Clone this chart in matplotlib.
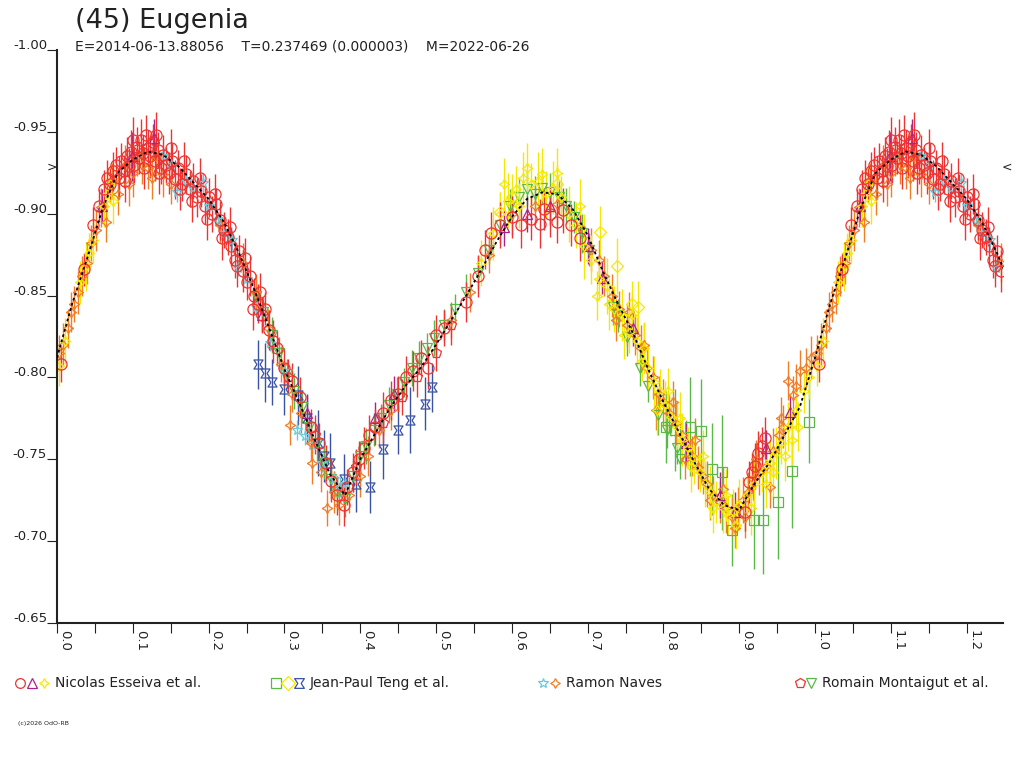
import numpy as np
import matplotlib
matplotlib.use('Agg')
import matplotlib.pyplot as plt
import matplotlib.transforms as mtransforms
from matplotlib.path import Path

plt.rcParams['font.family'] = ['DejaVu Sans']

# -- phase, reduced magnitude, error --
esseiva_circles = [
    (0.005,-0.808,0.011),(0.035,-0.866,0.010),(0.048,-0.893,0.011),(0.056,-0.905,0.010),(0.062,-0.915,0.012),
    (0.066,-0.922,0.011),(0.070,-0.918,0.010),(0.074,-0.926,0.012),(0.078,-0.930,0.011),(0.082,-0.922,0.013),
    (0.085,-0.932,0.011),(0.088,-0.926,0.010),(0.092,-0.935,0.012),(0.095,-0.929,0.011),(0.098,-0.938,0.013),
    (0.102,-0.930,0.011),(0.105,-0.941,0.012),(0.108,-0.934,0.010),(0.111,-0.945,0.013),(0.114,-0.937,0.011),
    (0.117,-0.948,0.012),(0.120,-0.940,0.011),(0.123,-0.935,0.013),(0.126,-0.944,0.011),(0.129,-0.932,0.012),
    (0.133,-0.939,0.011),(0.137,-0.928,0.010),(0.140,-0.936,0.012),(0.144,-0.930,0.011),(0.148,-0.925,0.013),
    (0.152,-0.932,0.011),(0.156,-0.921,0.012),(0.160,-0.928,0.011),(0.165,-0.918,0.010),(0.170,-0.924,0.012),
    (0.175,-0.915,0.011),(0.180,-0.920,0.011),(0.185,-0.910,0.012),(0.190,-0.914,0.010),(0.195,-0.905,0.011),
    (0.200,-0.910,0.012),(0.205,-0.900,0.011),(0.210,-0.906,0.010),(0.215,-0.896,0.012),(0.220,-0.890,0.011),
    (0.225,-0.886,0.011),(0.230,-0.880,0.012),(0.235,-0.872,0.011),(0.240,-0.877,0.010),(0.245,-0.865,0.013),
    (0.250,-0.858,0.011),(0.255,-0.862,0.012),(0.260,-0.850,0.011),(0.265,-0.845,0.012),(0.270,-0.838,0.011),
    (0.275,-0.842,0.010),(0.280,-0.829,0.012),(0.290,-0.818,0.011),(0.300,-0.806,0.012),(0.310,-0.798,0.011),
    (0.320,-0.788,0.012),(0.335,-0.770,0.011),(0.345,-0.760,0.012),(0.355,-0.748,0.011),(0.362,-0.737,0.013),
    (0.370,-0.728,0.012),(0.378,-0.722,0.013),(0.383,-0.733,0.011),(0.390,-0.742,0.012),(0.398,-0.750,0.011),
    (0.405,-0.757,0.013),(0.412,-0.765,0.012),(0.420,-0.770,0.011),(0.430,-0.778,0.013),(0.440,-0.786,0.012),
    (0.450,-0.790,0.011),(0.460,-0.800,0.013),(0.470,-0.804,0.012),(0.480,-0.812,0.011),(0.490,-0.806,0.013),
    (0.500,-0.826,0.012),(0.510,-0.830,0.011),(0.540,-0.846,0.012),(0.555,-0.862,0.013),(0.565,-0.878,0.012),
    (0.572,-0.888,0.013),(0.585,-0.893,0.014),(0.600,-0.898,0.013),(0.612,-0.893,0.014),(0.625,-0.897,0.013),
    (0.637,-0.894,0.015),(0.642,-0.903,0.013),(0.650,-0.900,0.014),(0.660,-0.895,0.013),(0.668,-0.902,0.014),
    (0.678,-0.893,0.013),(0.690,-0.885,0.014),(0.908,-0.718,0.012),(0.913,-0.736,0.013),(0.917,-0.742,0.012),
    (0.921,-0.746,0.014),(0.925,-0.754,0.013),(0.930,-0.758,0.012),(0.934,-0.763,0.013),
    (0.090,-0.920,0.013),(0.100,-0.945,0.014),(0.115,-0.928,0.013),(0.130,-0.948,0.014),(0.135,-0.925,0.013),
    (0.150,-0.940,0.012),(0.162,-0.915,0.013),(0.168,-0.932,0.012),(0.178,-0.908,0.013),(0.188,-0.922,0.012),
    (0.198,-0.897,0.013),(0.208,-0.912,0.012),(0.218,-0.885,0.013),(0.228,-0.892,0.012),(0.238,-0.868,0.013),
    (0.248,-0.873,0.012),(0.258,-0.842,0.013),(0.268,-0.852,0.012),(0.285,-0.822,0.013)]

esseiva_triangles = [
    (0.060,-0.905,0.010),(0.099,-0.935,0.015),(0.128,-0.946,0.012),(0.270,-0.838,0.010),(0.330,-0.778,0.011),
    (0.420,-0.775,0.010),(0.445,-0.790,0.011),(0.590,-0.892,0.012),(0.620,-0.900,0.011),(0.650,-0.905,0.012),
    (0.700,-0.880,0.011),(0.719,-0.861,0.010),(0.760,-0.830,0.011),(0.830,-0.760,0.012),(0.875,-0.728,0.014),
    (0.895,-0.718,0.012),(0.935,-0.757,0.011),(0.967,-0.779,0.010)]

esseiva_stars = [
    (0.003,-0.807,0.012),(0.010,-0.822,0.014),(0.030,-0.858,0.013),(0.038,-0.868,0.015),(0.042,-0.876,0.012),
    (0.047,-0.884,0.014),(0.062,-0.905,0.013),(0.066,-0.912,0.015),(0.070,-0.918,0.012),(0.074,-0.908,0.014),
    (0.560,-0.870,0.014),(0.575,-0.888,0.016),(0.585,-0.900,0.013),(0.595,-0.908,0.017),(0.605,-0.915,0.014),
    (0.615,-0.922,0.016),(0.625,-0.918,0.013),(0.635,-0.920,0.018),(0.645,-0.912,0.014),(0.655,-0.916,0.016),
    (0.665,-0.910,0.013),(0.675,-0.900,0.017),(0.685,-0.893,0.014),(0.695,-0.880,0.020),(0.705,-0.872,0.015),
    (0.715,-0.860,0.013),(0.725,-0.856,0.017),(0.735,-0.842,0.014),(0.745,-0.838,0.016),(0.755,-0.828,0.013),
    (0.765,-0.822,0.015),(0.772,-0.810,0.012),(0.780,-0.806,0.014),(0.788,-0.797,0.016),(0.795,-0.792,0.013),
    (0.802,-0.783,0.015),(0.810,-0.776,0.012),(0.818,-0.770,0.014),(0.825,-0.762,0.016),(0.832,-0.757,0.013),
    (0.840,-0.750,0.015),(0.848,-0.742,0.012),(0.855,-0.735,0.014),(0.862,-0.730,0.016),(0.870,-0.724,0.013),
    (0.878,-0.720,0.015),(0.885,-0.716,0.012),(0.892,-0.718,0.014),(0.900,-0.722,0.016),(0.910,-0.728,0.013),
    (0.920,-0.735,0.015),(0.930,-0.742,0.012),(0.940,-0.748,0.014),(0.948,-0.754,0.016),(0.955,-0.760,0.013),
    (0.965,-0.770,0.015),(0.975,-0.780,0.012),(0.985,-0.792,0.014),(0.992,-0.800,0.013),
    (0.712,-0.850,0.015),(0.728,-0.845,0.016),(0.748,-0.826,0.015),(0.758,-0.838,0.014),(0.775,-0.818,0.016),
    (0.792,-0.780,0.015),(0.806,-0.792,0.014),(0.822,-0.775,0.016),(0.836,-0.745,0.015),(0.852,-0.752,0.016),
    (0.866,-0.720,0.015),(0.882,-0.728,0.016),(0.896,-0.710,0.015),(0.915,-0.720,0.016),(0.935,-0.735,0.015),
    (0.945,-0.742,0.016),(0.960,-0.752,0.015),(0.970,-0.762,0.016),(0.978,-0.770,0.015),(0.590,-0.918,0.016),
    (0.620,-0.928,0.015),(0.640,-0.924,0.016),(0.660,-0.925,0.015),(0.610,-0.905,0.014),(0.690,-0.905,0.016)]

teng_squares = [
    (0.803,-0.770,0.022),(0.815,-0.768,0.025),(0.835,-0.770,0.030),(0.850,-0.767,0.032),(0.864,-0.744,0.028),
    (0.877,-0.742,0.035),(0.891,-0.707,0.022),(0.919,-0.713,0.030),(0.932,-0.713,0.033),(0.951,-0.724,0.035),
    (0.969,-0.743,0.035),(0.992,-0.773,0.025)]

teng_diamonds = [
    (0.584,-0.901,0.012),(0.600,-0.910,0.014),(0.660,-0.918,0.012),(0.716,-0.889,0.016),(0.739,-0.868,0.017),
    (0.759,-0.845,0.014),(0.767,-0.843,0.016)]

teng_bowties = [
    (0.265,-0.808,0.015),(0.274,-0.803,0.018),(0.284,-0.797,0.014),(0.300,-0.793,0.016),(0.318,-0.789,0.018),
    (0.330,-0.775,0.015),(0.344,-0.760,0.020),(0.352,-0.752,0.016),(0.360,-0.748,0.018),(0.378,-0.738,0.015),
    (0.395,-0.735,0.017),(0.413,-0.733,0.016),(0.430,-0.756,0.018),(0.450,-0.768,0.015),(0.466,-0.774,0.020),
    (0.485,-0.784,0.016),(0.495,-0.794,0.015)]

naves_stars = [
    (0.140,-0.935,0.005),(0.150,-0.930,0.005),(0.158,-0.913,0.006),(0.170,-0.920,0.005),(0.180,-0.916,0.004),
    (0.193,-0.919,0.006),(0.200,-0.905,0.005),(0.212,-0.896,0.005),(0.222,-0.888,0.004),(0.231,-0.884,0.006),
    (0.239,-0.867,0.005),(0.250,-0.860,0.005),(0.262,-0.843,0.006),(0.281,-0.821,0.005),(0.300,-0.804,0.005),
    (0.316,-0.768,0.006),(0.327,-0.764,0.005),(0.336,-0.759,0.005),(0.350,-0.748,0.006),(0.365,-0.738,0.005),
    (0.373,-0.733,0.006),(0.380,-0.735,0.005)]

naves_sparkles = [
    (0.002,-0.815,0.011),(0.008,-0.820,0.013),(0.015,-0.830,0.012),(0.022,-0.845,0.011),(0.028,-0.852,0.013),
    (0.033,-0.862,0.012),(0.045,-0.882,0.011),(0.052,-0.890,0.013),(0.058,-0.904,0.012),(0.072,-0.920,0.011),
    (0.080,-0.912,0.013),(0.090,-0.930,0.012),(0.100,-0.925,0.015),(0.112,-0.930,0.012),(0.120,-0.928,0.013),
    (0.130,-0.935,0.012),(0.140,-0.924,0.014),(0.150,-0.918,0.012),(0.215,-0.893,0.011),(0.245,-0.870,0.012),
    (0.262,-0.852,0.011),(0.278,-0.830,0.012),(0.295,-0.808,0.011),(0.307,-0.771,0.012),(0.310,-0.790,0.011),
    (0.322,-0.778,0.012),(0.335,-0.760,0.011),(0.336,-0.748,0.013),(0.348,-0.742,0.012),(0.356,-0.720,0.011),
    (0.365,-0.730,0.013),(0.372,-0.722,0.012),(0.385,-0.728,0.011),(0.400,-0.740,0.013),(0.410,-0.752,0.012),
    (0.425,-0.768,0.011),(0.440,-0.780,0.012),(0.520,-0.835,0.011),(0.545,-0.852,0.012),(0.570,-0.875,0.011),
    (0.600,-0.900,0.013),(0.630,-0.905,0.012),(0.660,-0.906,0.013),(0.690,-0.892,0.012),(0.705,-0.878,0.013),
    (0.722,-0.862,0.012),(0.732,-0.850,0.013),(0.742,-0.842,0.011),(0.752,-0.832,0.013),(0.762,-0.826,0.012),
    (0.770,-0.818,0.014),(0.778,-0.806,0.012),(0.786,-0.800,0.013),(0.794,-0.790,0.011),(0.800,-0.785,0.014),
    (0.808,-0.778,0.012),(0.816,-0.772,0.013),(0.824,-0.765,0.011),(0.830,-0.760,0.014),(0.838,-0.752,0.012),
    (0.846,-0.745,0.013),(0.852,-0.740,0.011),(0.858,-0.735,0.014),(0.866,-0.728,0.012),(0.874,-0.724,0.013),
    (0.882,-0.720,0.015),(0.890,-0.715,0.012),(0.898,-0.720,0.013),(0.905,-0.725,0.014),(0.912,-0.730,0.012),
    (0.918,-0.738,0.013),(0.926,-0.742,0.014),(0.935,-0.746,0.012),(0.941,-0.733,0.013),(0.945,-0.755,0.014),
    (0.952,-0.765,0.012),(0.958,-0.770,0.013),(0.971,-0.789,0.012),(0.980,-0.804,0.013),(0.988,-0.806,0.012),
    (0.995,-0.812,0.013),
    (0.715,-0.872,0.012),(0.738,-0.835,0.013),(0.755,-0.840,0.012),(0.775,-0.820,0.013),(0.790,-0.780,0.012),
    (0.812,-0.785,0.013),(0.828,-0.750,0.012),(0.842,-0.762,0.013),(0.862,-0.725,0.012),(0.878,-0.732,0.013),
    (0.895,-0.708,0.012),(0.908,-0.715,0.013),(0.922,-0.750,0.012),(0.955,-0.775,0.013),(0.965,-0.798,0.012),
    (0.975,-0.795,0.013),(0.018,-0.840,0.012),(0.040,-0.870,0.013),(0.064,-0.895,0.012),(0.095,-0.918,0.013),
    (0.105,-0.935,0.012),(0.125,-0.922,0.013)]

montaigut_pentagons = [
    (0.305,-0.800,0.011),(0.340,-0.765,0.012),(0.395,-0.745,0.011),(0.430,-0.772,0.012),(0.455,-0.788,0.011),
    (0.475,-0.800,0.012),(0.500,-0.815,0.011),(0.520,-0.832,0.012)]

montaigut_triangles = [
    (0.262,-0.850,0.010),(0.272,-0.840,0.009),(0.283,-0.826,0.011),(0.293,-0.815,0.010),(0.303,-0.802,0.009),
    (0.313,-0.792,0.011),(0.323,-0.782,0.010),(0.333,-0.770,0.009),(0.343,-0.760,0.011),(0.352,-0.748,0.010),
    (0.362,-0.738,0.012),(0.370,-0.730,0.010),(0.380,-0.726,0.011),(0.390,-0.740,0.010),(0.400,-0.752,0.009),
    (0.408,-0.758,0.011),(0.418,-0.768,0.010),(0.428,-0.775,0.009),(0.438,-0.783,0.011),(0.448,-0.790,0.010),
    (0.458,-0.797,0.009),(0.468,-0.806,0.011),(0.478,-0.812,0.010),(0.488,-0.818,0.009),(0.498,-0.824,0.011),
    (0.510,-0.832,0.010),(0.525,-0.842,0.009),(0.540,-0.852,0.011),(0.555,-0.864,0.010),(0.570,-0.878,0.009),
    (0.585,-0.893,0.011),(0.598,-0.905,0.010),(0.610,-0.910,0.012),(0.620,-0.915,0.010),(0.630,-0.912,0.011),
    (0.640,-0.916,0.010),(0.650,-0.913,0.012),(0.662,-0.910,0.010),(0.672,-0.905,0.011),(0.682,-0.898,0.010),
    (0.692,-0.888,0.012),(0.702,-0.878,0.010),(0.734,-0.843,0.011),(0.740,-0.838,0.010),(0.752,-0.825,0.012),
    (0.769,-0.806,0.011),(0.780,-0.795,0.010),(0.793,-0.777,0.012),(0.805,-0.768,0.011),(0.818,-0.757,0.010),
    (0.822,-0.750,0.012)]

# Fourier fit curve
fit_phase = [0.00,0.02,0.04,0.06,0.08,0.10,0.12,0.14,0.16,0.18,0.20,0.22,0.24,0.26,0.28,0.30,0.32,0.34,
             0.36,0.38,0.40,0.42,0.44,0.46,0.48,0.50,0.52,0.54,0.56,0.58,0.60,0.62,0.64,0.66,0.68,0.70,
             0.72,0.74,0.76,0.78,0.80,0.82,0.84,0.86,0.88,0.90,0.92,0.94,0.96,0.98,1.00]
fit_mag = [-0.812,-0.845,-0.873,-0.903,-0.925,-0.933,-0.938,-0.936,-0.929,-0.919,-0.909,-0.895,-0.876,
           -0.854,-0.830,-0.805,-0.784,-0.762,-0.741,-0.728,-0.750,-0.766,-0.782,-0.795,-0.806,-0.820,
           -0.835,-0.850,-0.866,-0.883,-0.898,-0.909,-0.913,-0.912,-0.903,-0.887,-0.865,-0.845,-0.827,
           -0.805,-0.785,-0.767,-0.749,-0.732,-0.722,-0.719,-0.735,-0.748,-0.765,-0.782,-0.812]

yticks = [-1.00, -0.95, -0.90, -0.85, -0.80, -0.75, -0.70, -0.65]
xticks = [0.0, 0.1, 0.2, 0.3, 0.4, 0.5, 0.6, 0.7, 0.8, 0.9, 1.0, 1.1, 1.2]
phaseMax = 1.248

red = '#ee3333'
purple = '#aa2288'
yellow = '#f5e800'
green = '#5ab946'
blue = '#3a52a3'
cyan = '#6cc9dc'
orange = '#f07d28'

bowtie = Path([(-1, -1), (1, -1), (0.35, 0), (1, 1), (-1, 1), (-0.35, 0), (-1, -1)],
              [Path.MOVETO] + [Path.LINETO]*5 + [Path.CLOSEPOLY])
sparkle = (4, 1, 0)


def fold(rows):
    rows = np.array(rows)
    extra = rows[rows[:, 0] < phaseMax - 1].copy()
    extra[:, 0] += 1
    return np.vstack([rows, extra])


series = [
    (teng_bowties, bowtie, blue, 6.5),
    (teng_squares, 's', green, 6.5),
    (montaigut_triangles, 'v', green, 6.5),
    (naves_stars, '*', cyan, 8),
    (naves_sparkles, sparkle, orange, 7.5),
    (esseiva_triangles, '^', purple, 6.5),
    (teng_diamonds, 'D', yellow, 6),
    (esseiva_stars, sparkle, yellow, 7.5),
    (montaigut_pentagons, 'p', red, 7.5),
    (esseiva_circles, 'o', red, 8),
]

fig = plt.figure(figsize=(10.24, 7.68), dpi=100)
ax = fig.add_axes([57/1024, 145/768, 946/1024, 573/768])

for rows, marker, color, ms in series:
    d = fold(rows)
    ax.errorbar(d[:, 0], d[:, 1], yerr=d[:, 2], marker=marker, linestyle='none', color=color,
                mfc='none', mec=color, ms=ms, mew=0.9, elinewidth=1.0, capsize=0)

fp = np.concatenate([fit_phase, np.array(fit_phase) + 1])
fm = np.concatenate([fit_mag, fit_mag])
keep = fp <= phaseMax + 0.02
ax.plot(fp[keep], fm[keep], color='black', lw=1.3, ls=(0, (1.5, 1.5)), zorder=10)

ax.set_xlim(0, phaseMax)
ax.set_ylim(-0.65, -1.00)
for s in ['top', 'right']:
    ax.spines[s].set_visible(False)
for s in ['left', 'bottom']:
    ax.spines[s].set_linewidth(1.5)
    ax.spines[s].set_color('#222222')

ax.set_xticks(xticks)
ax.set_xticks(np.arange(0.05, 1.25, 0.1), minor=True)
ax.set_yticks(yticks)
ax.tick_params(axis='x', which='both', direction='out', length=7, width=0.8, color='#222222', labelbottom=False)
ax.tick_params(axis='y', which='both', direction='out', length=7, width=0.8, color='#222222', labelleft=False)

xlabTrans = mtransforms.offset_copy(ax.get_xaxis_transform(), fig=fig, x=1, y=-7, units='dots')
for v in xticks:
    ax.text(v, 0, '%.1f' % v, transform=xlabTrans, rotation=-90, ha='left', va='top',
            fontsize=9.5, color='#222222')
ylabTrans = mtransforms.offset_copy(ax.get_yaxis_transform(), fig=fig, x=-10, y=1, units='dots')
for v in yticks:
    ax.text(0, v, '%.2f' % v, transform=ylabTrans, ha='right', va='baseline',
            fontsize=9.5, color='#222222')

fig.text(75/1024, 1 - 21/768, '(45) Eugenia', fontsize=19.5, ha='left', va='center', color='#222222')
fig.text(75/1024, 1 - 47/768, 'E=2014-06-13.88056    T=0.237469 (0.000003)    M=2022-06-26',
         fontsize=10, ha='left', va='center', color='#222222')
fig.text(52/1024, 1 - 167/768, '>', fontsize=9, ha='center', va='center', color='#222222')
fig.text(1007/1024, 1 - 167/768, '<', fontsize=9, ha='center', va='center', color='#222222')
fig.text(18/1024, 1 - 723/768, '(c)2026 OdO-RB', fontsize=4.5, ha='left', va='center', color='#222222')

# -- legend drawn in pixel coordinates --
legAx = fig.add_axes([0, 0, 1, 1], facecolor='none')
legAx.set_xlim(0, 1024)
legAx.set_ylim(768, 0)
legAx.axis('off')
legendItems = [
    ([(20, 'o', red), (32, '^', purple), (44, sparkle, yellow)], 55, 'Nicolas Esseiva et al.'),
    ([(276, 's', green), (288, 'D', yellow), (299, bowtie, blue)], 310, 'Jean-Paul Teng et al.'),
    ([(543, '*', cyan), (555, sparkle, orange)], 566, 'Ramon Naves'),
    ([(800, 'p', red), (811, 'v', green)], 822, 'Romain Montaigut et al.'),
]
for marks, textX, label in legendItems:
    for mx, mk, mc in marks:
        legAx.plot([mx], [683], marker=mk, mfc='none', mec=mc, ms=7, mew=0.9, linestyle='none')
    legAx.text(textX, 683, label, fontsize=10, ha='left', va='center', color='#222222')

fig.savefig('out.png', dpi=100)
